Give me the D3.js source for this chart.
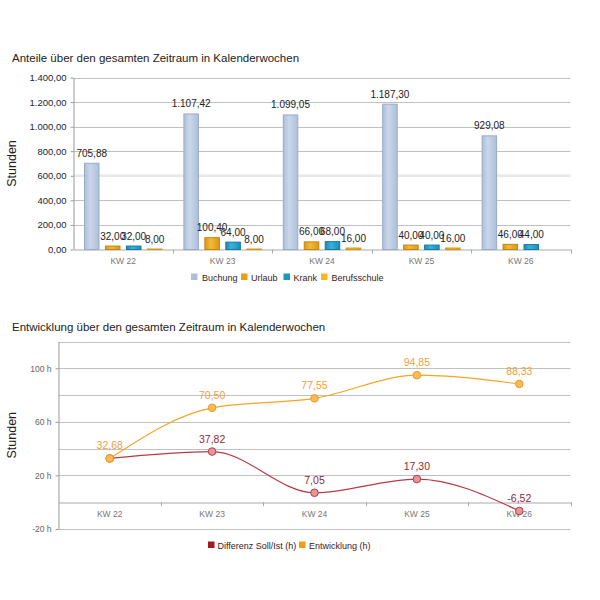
<!DOCTYPE html>
<html><head><meta charset="utf-8">
<script src="https://cdn.jsdelivr.net/npm/d3@7"></script>
<style>body{margin:0;background:#fff;font-family:"Liberation Sans",Arial,sans-serif}</style>
</head><body>
<svg id="c" width="600" height="600"></svg>
<script>
const categories = ["KW 22","KW 23","KW 24","KW 25","KW 26"];
const barSeries = ["Buchung","Urlaub","Krank","Berufsschule"];
const buchung = [705.88,1107.42,1099.05,1187.30,929.08];
const urlaub = [32.00,100.40,66.00,40.00,46.00];
const krank = [32.00,64.00,68.00,40.00,44.00];
const berufsschule = [8.00,8.00,16.00,16.00,null];
const barTicks = [0,200,400,600,800,1000,1200,1400];
const lineSeries = ["Differenz Soll/Ist (h)","Entwicklung (h)"];
const differenz = [32.68,37.82,7.05,17.30,-6.52];
const entwicklung = [32.68,70.50,77.55,94.85,88.33];
const lineTicks = [-20,0,20,40,60,80,100,120];
const lineTickLabels = [-20,20,60,100];

const svg = d3.select("#c");
const fmt = v => {
  const s = v.toFixed(2).split(".");
  return s[0].replace(/\B(?=(\d{3})+(?!\d))/g, ".") + "," + s[1];
};
const font = '"Liberation Sans",Arial,sans-serif';

const defs = svg.append("defs");
const barColors = [
  {edge:"#aebfda", mid:"#cad7ea", stroke:"#97abcb"},
  {edge:"#dc9a12", mid:"#f2b73c", stroke:"#c4860c"},
  {edge:"#178fbb", mid:"#3bb1da", stroke:"#137aa0"},
  {edge:"#eeaa14", mid:"#f8c54a", stroke:"#d6960c"}
];
barColors.forEach((c,i)=>{
  const g = defs.append("linearGradient").attr("id","g"+i).attr("x1","0").attr("x2","1").attr("y1","0").attr("y2","0");
  g.append("stop").attr("offset","0%").attr("stop-color",c.edge);
  g.append("stop").attr("offset","40%").attr("stop-color",c.mid);
  g.append("stop").attr("offset","100%").attr("stop-color",c.edge);
});
const legendColors = ["#aebfda","#e6a117","#1d96c2","#f8b81c"];

// ---------- Bar chart ----------
const b = {l:73.5, r:570.5, t:77.5, btm:249.5};
svg.append("text").attr("x",12).attr("y",62).attr("font-size",11.5).attr("fill","#222").attr("font-family",font)
  .text("Anteile über den gesamten Zeitraum in Kalenderwochen");
const xb = d3.scaleBand().domain(categories).range([b.l,b.r]);
const xs = d3.scaleBand().domain(barSeries).range([0,xb.bandwidth()]).paddingOuter(0.5).paddingInner(0.26);
const yb = d3.scaleLinear().domain([0,1400]).range([b.btm,b.t]);

const gb = svg.append("g");
barTicks.forEach(t=>{
  if(t===600){
    gb.append("line").attr("x1",b.l).attr("x2",b.r).attr("y1",yb(t)).attr("y2",yb(t)).attr("stroke","#e8e8e8").attr("stroke-width",2.5);
  } else if(t>0){
    gb.append("line").attr("x1",b.l).attr("x2",b.r).attr("y1",Math.round(yb(t))+0.5).attr("y2",Math.round(yb(t))+0.5).attr("stroke","#c0c0c0");
  }
});
const yAxisB = d3.axisLeft(yb).tickValues(barTicks).tickFormat(fmt).tickSize(3).tickSizeOuter(0);
const ya = gb.append("g").attr("transform",`translate(${b.l},0)`).call(yAxisB);
ya.select(".domain").attr("stroke","#999");
ya.selectAll(".tick line").attr("stroke","#999");
ya.selectAll("text").attr("font-size",9.5).attr("fill","#1d1d33").attr("font-family",font).attr("dx",-1);
const xAxisB = d3.axisBottom(xb).tickSize(0).tickSizeOuter(0);
const xa = gb.append("g").attr("transform",`translate(0,${b.btm})`).call(xAxisB);
xa.select(".domain").attr("stroke","#aaa");
xa.selectAll("text").attr("font-size",8.5).attr("fill","#777").attr("font-family",font).attr("dy","1.35em");
[...categories.map(c=>xb(c)).slice(1), b.r].forEach(x=>{
  gb.append("line").attr("x1",Math.round(x)+0.5).attr("x2",Math.round(x)+0.5).attr("y1",b.btm).attr("y2",b.btm+4).attr("stroke","#aaa");
});

const barData = [buchung,urlaub,krank,berufsschule];
barData.forEach((arr,si)=>{
  arr.forEach((v,ci)=>{
    if(v==null) return;
    const x = xb(categories[ci]) + xs(barSeries[si]);
    const w = xs.bandwidth();
    gb.append("rect").attr("x",x+0.5).attr("y",yb(v)+0.5).attr("width",w-1).attr("height",Math.max(0,b.btm-yb(v)-0.5))
      .attr("fill",`url(#g${si})`).attr("stroke",barColors[si].stroke).attr("stroke-width",1);
  });
});
barData.forEach((arr,si)=>{
  arr.forEach((v,ci)=>{
    if(v==null) return;
    const x = xb(categories[ci]) + xs(barSeries[si]) + xs.bandwidth()/2;
    gb.append("text").attr("x",x).attr("y",yb(v)-6).attr("text-anchor","middle").attr("font-size",10)
      .attr("fill","#222").attr("font-family",font).text(fmt(v));
  });
});
gb.append("text").attr("transform",`translate(16,${(b.t+b.btm)/2}) rotate(-90)`).attr("text-anchor","middle")
  .attr("font-size",12.5).attr("fill","#222").attr("font-family",font).text("Stunden");

const legB = [{x:191,tx:202},{x:241,tx:251},{x:283.5,tx:293.5},{x:321,tx:331.5}];
barSeries.forEach((s,i)=>{
  svg.append("rect").attr("x",legB[i].x).attr("y",273.5).attr("width",6.5).attr("height",6.5).attr("fill",legendColors[i]);
  svg.append("text").attr("x",legB[i].tx).attr("y",280.5).attr("font-size",9).attr("fill","#3a1a1a").attr("font-family",font).text(s);
});

// ---------- Line chart ----------
const L = {l:58.5, r:570.5, t:341.5, btm:529};
svg.append("text").attr("x",12).attr("y",331).attr("font-size",11.5).attr("fill","#222").attr("font-family",font)
  .text("Entwicklung über den gesamten Zeitraum in Kalenderwochen");
const xl = d3.scaleBand().domain(categories).range([L.l,L.r]);
const yl = d3.scaleLinear().domain([-20,120]).range([L.btm,L.t]);
const gl = svg.append("g");
lineTicks.forEach(t=>{
  if(t===0) return;
  gl.append("line").attr("x1",L.l).attr("x2",L.r).attr("y1",Math.round(yl(t))+0.5).attr("y2",Math.round(yl(t))+0.5).attr("stroke","#c0c0c0");
});
const yAxisL = d3.axisLeft(yl).tickValues(lineTickLabels).tickFormat(d=>d+" h").tickSize(3).tickSizeOuter(0);
const yla = gl.append("g").attr("transform",`translate(${L.l},0)`).call(yAxisL);
yla.select(".domain").attr("stroke","#999");
yla.selectAll(".tick line").attr("stroke","#999");
yla.selectAll("text").attr("font-size",8.5).attr("fill","#666").attr("font-family",font).attr("dx",-1);
const xAxisL = d3.axisBottom(xl).tickSize(0).tickSizeOuter(0);
const xla = gl.append("g").attr("transform",`translate(0,${Math.round(yl(0))+0.5})`).call(xAxisL);
xla.select(".domain").attr("stroke","#aaa");
xla.selectAll("text").attr("font-size",8.5).attr("fill","#777").attr("font-family",font).attr("dy","1.3em");
[...categories.map(c=>xl(c)).slice(1), L.r].forEach(x=>{
  gl.append("line").attr("x1",Math.round(x)+0.5).attr("x2",Math.round(x)+0.5).attr("y1",yl(0)).attr("y2",yl(0)+4).attr("stroke","#aaa");
});
gl.append("text").attr("transform",`translate(16,${(L.t+L.btm)/2}) rotate(-90)`).attr("text-anchor","middle")
  .attr("font-size",12.5).attr("fill","#222").attr("font-family",font).text("Stunden");

const line = d3.line().x((d,i)=>xl(categories[i])+xl.bandwidth()/2).y(d=>yl(d)).curve(d3.curveMonotoneX);
const lineStyles = [
  {data:differenz, stroke:"#b83a45", fill:"#e8959a", pstroke:"#b23a48", label:"#8f2a3c", leg:"#a41a20"},
  {data:entwicklung, stroke:"#f5a623", fill:"#f8bb55", pstroke:"#eb9c1e", label:"#f0a040", leg:"#f59d12"}
];
lineStyles.forEach(s=>{
  gl.append("path").attr("d",line(s.data)).attr("fill","none").attr("stroke",s.stroke).attr("stroke-width",1.2);
});
lineStyles.forEach(s=>{
  s.data.forEach((v,i)=>{
    const x = xl(categories[i])+xl.bandwidth()/2;
    gl.append("circle").attr("cx",x).attr("cy",yl(v)).attr("r",3.8).attr("fill",s.fill).attr("stroke",s.pstroke).attr("stroke-width",1);
  });
});
lineStyles.forEach((s,si)=>{
  s.data.forEach((v,i)=>{
    // hide a label that is fully covered by the other series' label at the same point
    if(si===0 && lineStyles[1].data[i]===v) return;
    const x = xl(categories[i])+xl.bandwidth()/2;
    gl.append("text").attr("x",x).attr("y",yl(v)-9).attr("text-anchor","middle").attr("font-size",10.5)
      .attr("fill",s.label).attr("font-family",font).text(fmt(v));
  });
});
const legL = [{x:208,tx:217.5},{x:299,tx:309}];
lineSeries.forEach((s,i)=>{
  svg.append("rect").attr("x",legL[i].x).attr("y",541.5).attr("width",6.5).attr("height",6.5).attr("fill",lineStyles[i].leg);
  svg.append("text").attr("x",legL[i].tx).attr("y",548.5).attr("font-size",9).attr("fill","#3a1a1a").attr("font-family",font).text(s);
});
</script>
</body></html>
